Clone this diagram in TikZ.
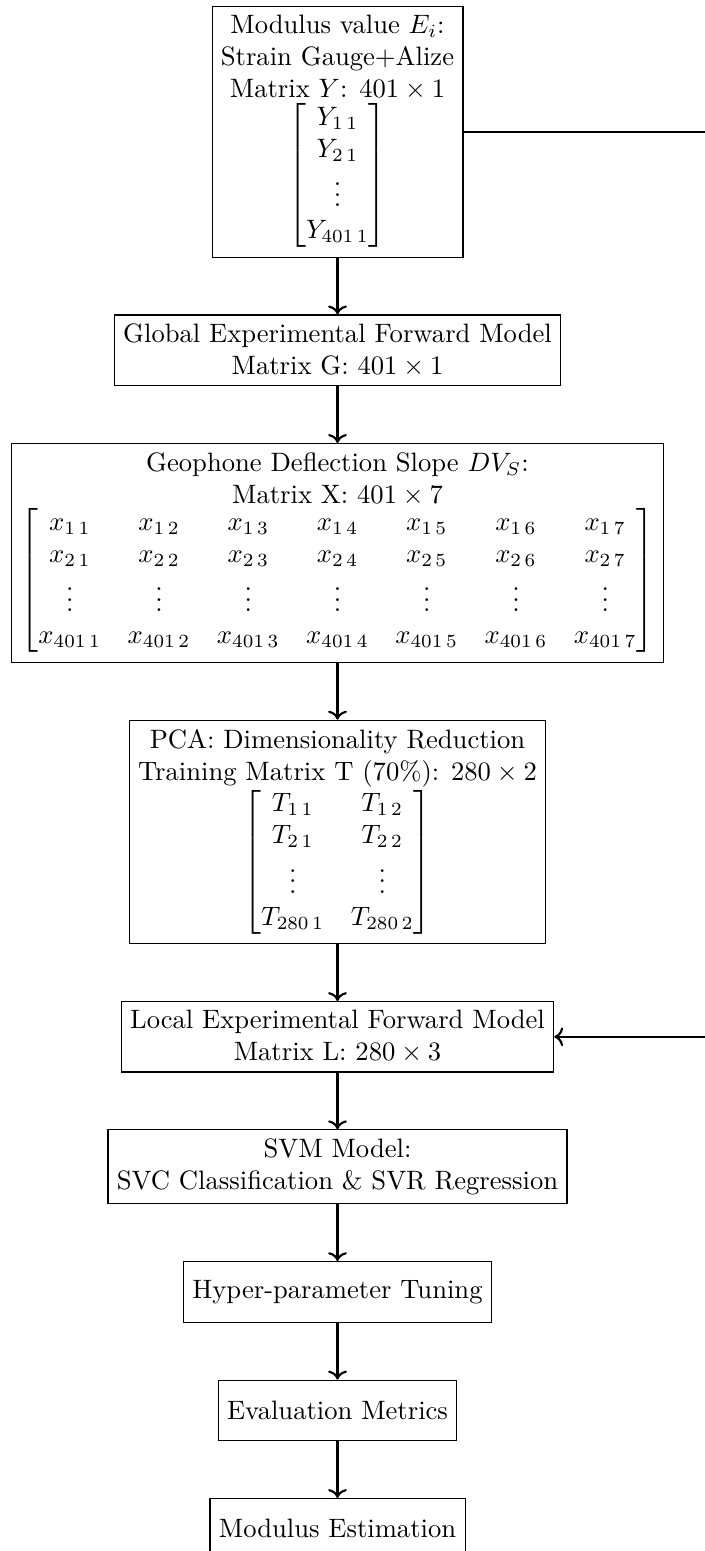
\documentclass[tikz,border=0pt]{standalone}
\usepackage{amsmath,amssymb}
\usetikzlibrary{arrows.meta,positioning,calc}
\tikzset{
	stage/.style={draw,rectangle,align=center,minimum height=0.8cm},
	flow/.style={->,thick},
}
\begin{document}
\begin{tikzpicture}[node distance=0.75cm]
	\node[stage,anchor=north] (modulus) at (0,0) {%
		Modulus value $E_i$:\\
		Strain Gauge+Alize\\
		Matrix $Y$: $401\times 1$\\
		$\begin{bmatrix} Y_{1\,1}\\ Y_{2\,1}\\ \vdots\\ Y_{401\,1}\end{bmatrix}$
	};
	\node[stage,below=of modulus] (global) {%
		Global Experimental Forward Model\\
		Matrix G: $401\times 1$
	};
	\node[stage,below=of global] (geophone) {%
		Geophone Deflection Slope $DV_S$:\\
		Matrix X: $401\times 7$\\
		$\begin{bmatrix}
			x_{1\,1} & x_{1\,2} & x_{1\,3} & x_{1\,4} & x_{1\,5} & x_{1\,6} & x_{1\,7}\\
			x_{2\,1} & x_{2\,2} & x_{2\,3} & x_{2\,4} & x_{2\,5} & x_{2\,6} & x_{2\,7}\\
			\vdots & \vdots & \vdots & \vdots & \vdots & \vdots & \vdots\\
			x_{401\,1} & x_{401\,2} & x_{401\,3} & x_{401\,4} & x_{401\,5} & x_{401\,6} & x_{401\,7}
		\end{bmatrix}$
	};
	\node[stage,below=of geophone] (pca) {%
		PCA: Dimensionality Reduction\\
		Training Matrix T (70\%): $280\times 2$\\
		$\begin{bmatrix}
			T_{1\,1} & T_{1\,2}\\
			T_{2\,1} & T_{2\,2}\\
			\vdots & \vdots\\
			T_{280\,1} & T_{280\,2}
		\end{bmatrix}$
	};
	\node[stage,below=of pca] (local) {%
		Local Experimental Forward Model\\
		Matrix L: $280\times 3$
	};
	\node[stage,below=of local] (svm) {%
		SVM Model:\\
		SVC Classification \& SVR Regression
	};
	\node[stage,below=of svm] (tuning) {Hyper-parameter Tuning};
	\node[stage,below=of tuning] (metrics) {Evaluation Metrics};
	\node[stage,below=of metrics] (estimate) {Modulus Estimation};
	
	\draw[flow] (modulus) -- (global);
	\draw[flow] (global) -- (geophone);
	\draw[flow] (geophone) -- (pca);
	\draw[flow] (pca) -- (local);
	\draw[flow] (local) -- (svm);
	\draw[flow] (svm) -- (tuning);
	\draw[flow] (tuning) -- (metrics);
	\draw[flow] (metrics) -- (estimate);
	% modulus values feed the local model from the right
	\draw[flow] (modulus.east) -- ++(3.6,0) |- (local.east);
	
	\pgfresetboundingbox
	\path[use as bounding box] ($(modulus.north)+(-126.8pt,2.3pt)$)
	rectangle ($(estimate.north)+(137.7pt,-19.9pt)$);
\end{tikzpicture}
\end{document}
